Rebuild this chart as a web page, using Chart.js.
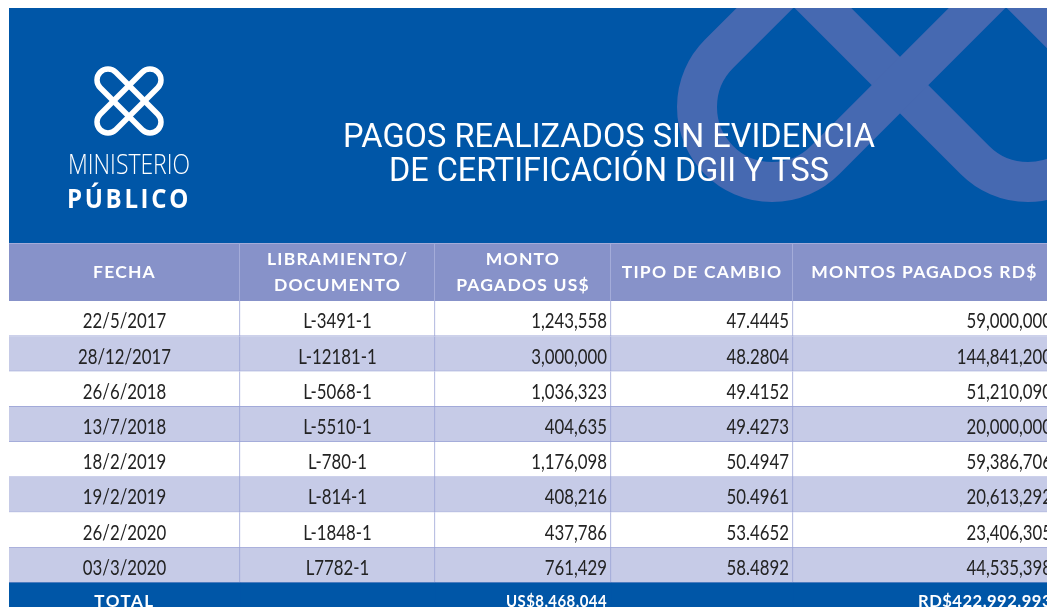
<!DOCTYPE html>
<html>
<head>
<meta charset="utf-8">
<script src="https://cdn.jsdelivr.net/npm/chart.js@4.4.1/dist/chart.umd.min.js"></script>
<style>
  html, body { margin: 0; padding: 0; background: #ffffff; overflow: hidden; width: 1047px; height: 607px; }
  #wrap { position: absolute; left: 0; top: 0; width: 1060px; height: 618px; }
</style>
</head>
<body>
<div id="wrap"><canvas id="c" width="1060" height="618"></canvas></div>
<script>
// ---------------- DATA ----------------
const titleLines = ['PAGOS REALIZADOS SIN EVIDENCIA', 'DE CERTIFICACIÓN DGII Y TSS'];
const logoWords = ['MINISTERIO', 'PÚBLICO'];
const columnHeaders = [['FECHA'], ['LIBRAMIENTO/', 'DOCUMENTO'], ['MONTO', 'PAGADOS US$'], ['TIPO DE CAMBIO'], ['MONTOS PAGADOS RD$']];
const fechas = ['22/5/2017', '28/12/2017', '26/6/2018', '13/7/2018', '18/2/2019', '19/2/2019', '26/2/2020', '03/3/2020'];
const documentos = ['L-3491-1', 'L-12181-1', 'L-5068-1', 'L-5510-1', 'L-780-1', 'L-814-1', 'L-1848-1', 'L7782-1'];
const montosUSD = [1243558, 3000000, 1036323, 404635, 1176098, 408216, 437786, 761429];
const tiposCambio = [47.4445, 48.2804, 49.4152, 49.4273, 50.4947, 50.4961, 53.4652, 58.4892];
const montosRD = [59000000, 144841200, 51210090, 20000000, 59386706, 20613292, 23406305, 44535398];
const totalLabel = 'TOTAL';
const totalUSD = 8468044;
const totalRD = 422992993;

// ---------------- LAYOUT / STYLE ----------------
const columnEdges = [0, 231, 426, 602, 784, 1047];   // x-scale units
const COL = {
  banner: '#0056a7', watermark: '#4669b1', headerRow: '#8792c9', headerSep: '#a4acd9',
  rowWhite: '#ffffff', rowAlt: '#c6cbe7', grid: '#9aa3d6', total: '#0056a7', text: '#232323'
};
const fmtInt = v => v.toLocaleString('en-US');
const fmt4 = v => v.toFixed(4);

const rowLabels = fechas.concat([totalLabel]);
const nRows = rowLabels.length;
const lastRow = nRows - 1;

const datasets = [];
for (let c = 0; c < columnEdges.length - 1; c++) {
  datasets.push({
    label: 'col' + c,
    data: rowLabels.map(() => [columnEdges[c], columnEdges[c + 1]]),
    backgroundColor: ctx => ctx.dataIndex === lastRow ? COL.total : (ctx.dataIndex % 2 === 0 ? COL.rowWhite : COL.rowAlt),
    borderColor: ctx => ctx.dataIndex === lastRow ? COL.total : COL.grid,
    borderWidth: ctx => ctx.dataIndex === lastRow ? 0 : { top: 0, left: 0, right: 1, bottom: 1 },
    borderSkipped: false,
    grouped: false,
    barPercentage: 1,
    categoryPercentage: 1
  });
}

function stadium(ctx, ax, ay, bx, by, r) {
  const ang = Math.atan2(by - ay, bx - ax);
  ctx.beginPath();
  ctx.arc(bx, by, r, ang - Math.PI / 2, ang + Math.PI / 2);
  ctx.arc(ax, ay, r, ang + Math.PI / 2, ang + 3 * Math.PI / 2);
  ctx.closePath();
}
function drawLogoShape(ctx, cx, cy, half, r, lw, color) {
  ctx.save();
  ctx.strokeStyle = color; ctx.lineWidth = lw;
  stadium(ctx, cx - half, cy - half, cx + half, cy + half, r); ctx.stroke();
  stadium(ctx, cx + half, cy - half, cx - half, cy + half, r); ctx.stroke();
  ctx.restore();
}

const backgroundPlugin = {
  id: 'banner',
  beforeDatasetsDraw(chart) {
    const ctx = chart.ctx;
    const xs = chart.scales.x;
    const left = xs.getPixelForValue(columnEdges[0]);
    const right = xs.getPixelForValue(columnEdges[columnEdges.length - 1]);
    ctx.save();
    // banner
    ctx.fillStyle = COL.banner;
    ctx.fillRect(left, 8, right - left, 235);
    ctx.save();
    ctx.beginPath(); ctx.rect(left, 8, right - left, 235); ctx.clip();
    drawLogoShape(ctx, 900, -21, 128, 75, 40, COL.watermark);
    ctx.restore();
    // logo
    drawLogoShape(ctx, 129, 101, 21, 11, 5.5, '#ffffff');
    ctx.fillStyle = '#ffffff';
    ctx.textBaseline = 'alphabetic';
    ctx.textAlign = 'left';
    ctx.font = '300 27px "Open Sans"';
    ctx.fillText(logoWords[0], 68, 174, 122);
    ctx.font = 'bold 27px "Open Sans"';
    ctx.save(); ctx.letterSpacing = '3px'; ctx.fillText(logoWords[1], 67, 208, 124); ctx.restore();
    // title
    ctx.textAlign = 'center';
    ctx.font = '33px Roboto';
    ctx.fillText(titleLines[0], 609, 147, 532);
    ctx.fillText(titleLines[1], 609, 181, 440);
    // header row
    ctx.fillStyle = COL.headerRow;
    ctx.fillRect(left, 243, right - left, 58);
    ctx.fillStyle = COL.headerSep;
    ctx.fillRect(left, 243, right - left, 1);
    for (let c = 1; c < columnEdges.length - 1; c++) {
      const px = Math.round(xs.getPixelForValue(columnEdges[c]));
      ctx.fillRect(px - 1, 243, 1, 58);
    }
    ctx.fillStyle = '#ffffff';
    ctx.font = 'bold 17.5px Lato';
    ctx.textBaseline = 'middle';
    for (let c = 0; c < columnHeaders.length; c++) {
      const cx = (xs.getPixelForValue(columnEdges[c]) + xs.getPixelForValue(columnEdges[c + 1])) / 2;
      const lines = columnHeaders[c];
      lines.forEach((t, i) => {
        const y = lines.length === 1 ? 272 : 259 + i * 26;
        ctx.save(); ctx.letterSpacing = '1.2px'; ctx.fillText(t, cx, y); ctx.restore();
      });
    }
    ctx.restore();
  },
  afterDatasetsDraw(chart) {
    const ctx = chart.ctx;
    const xs = chart.scales.x, ys = chart.scales.y;
    const ex = columnEdges.map(v => xs.getPixelForValue(v));
    const pad = 4;
    ctx.save();
    ctx.textBaseline = 'middle';
    for (let i = 0; i < fechas.length; i++) {
      const y = ys.getPixelForValue(i) + 3;
      ctx.fillStyle = COL.text;
      ctx.font = '21px Lato';
      const cells = [fechas[i], documentos[i], fmtInt(montosUSD[i]), fmt4(tiposCambio[i]), fmtInt(montosRD[i])];
      cells.forEach((t, c) => {
        const w = ctx.measureText(t).width * 0.8;
        if (c < 2) { ctx.textAlign = 'center'; ctx.fillText(t, (ex[c] + ex[c + 1]) / 2, y, w); }
        else { ctx.textAlign = 'right'; ctx.fillText(t, ex[c + 1] - pad, y, w); }
      });
    }
    // total row
    const yt = ys.getPixelForValue(lastRow) + 1;
    ctx.fillStyle = '#ffffff';
    ctx.font = 'bold 17px Lato';
    ctx.textAlign = 'center';
    ctx.save(); ctx.letterSpacing = '1.5px';
    ctx.fillText(totalLabel, (ex[0] + ex[1]) / 2, yt);
    ctx.restore();
    ctx.textAlign = 'right';
    ctx.save(); ctx.letterSpacing = '0.5px';
    ctx.fillText('US$' + fmtInt(totalUSD), ex[3] - pad, yt, 101);
    ctx.fillText('RD$' + fmtInt(totalRD), ex[5] - pad, yt, 134);
    ctx.restore();
    ctx.restore();
  }
};

new Chart(document.getElementById('c'), {
  type: 'bar',
  data: { labels: rowLabels, datasets },
  options: {
    indexAxis: 'y',
    responsive: false,
    animation: false,
    devicePixelRatio: 1,
    layout: { padding: { top: 301, left: 9, right: 0, bottom: 0 } },
    scales: {
      x: { type: 'linear', min: 0, max: 1051, display: false },
      y: { type: 'category', display: false, offset: true }
    },
    plugins: { legend: { display: false }, tooltip: { enabled: false }, title: { display: false } }
  },
  plugins: [backgroundPlugin]
});
</script>
</body>
</html>
